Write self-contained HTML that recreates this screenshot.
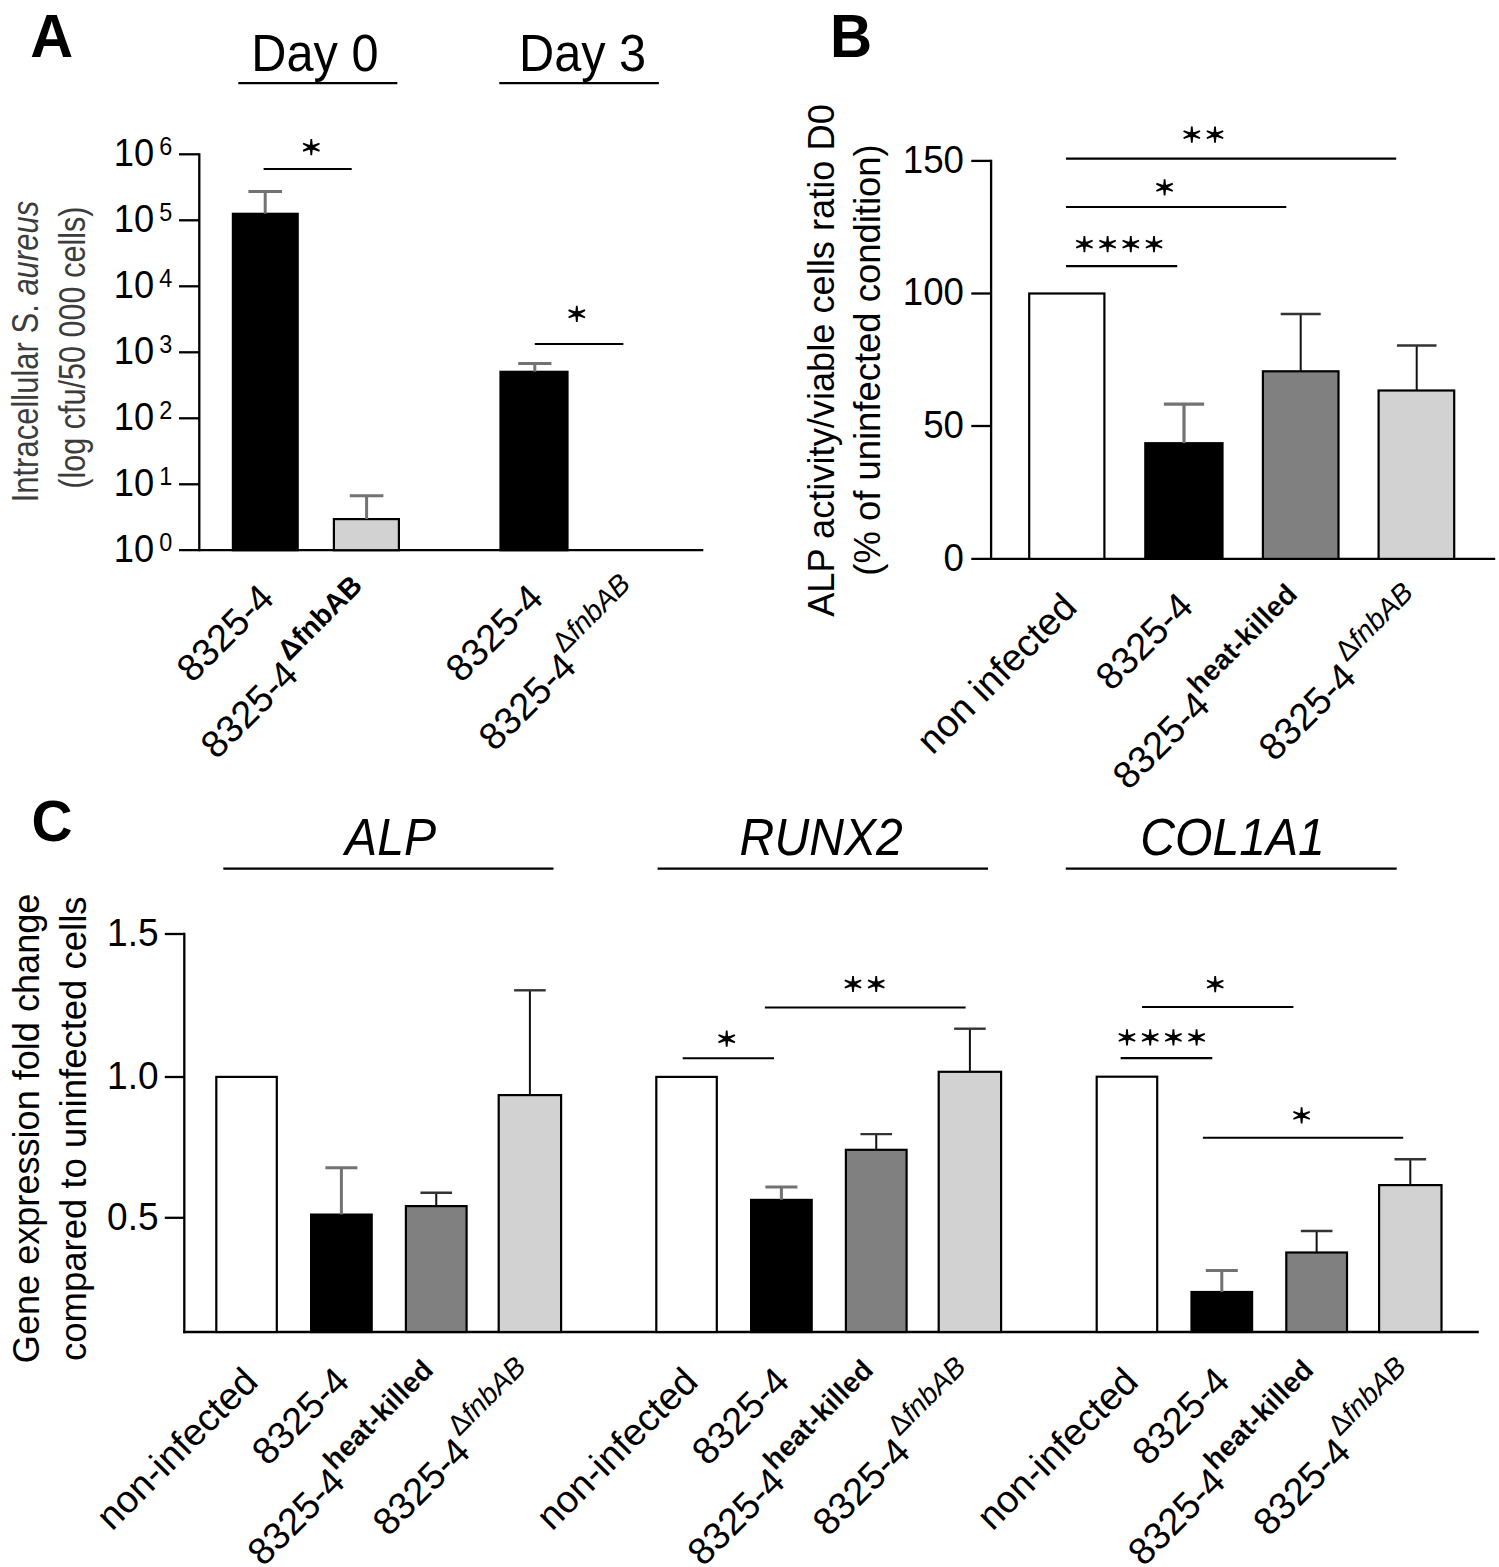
<!DOCTYPE html>
<html><head><meta charset="utf-8"><title>Figure</title>
<style>
html,body{margin:0;padding:0;background:#fff;}
body{width:1499px;height:1567px;overflow:hidden;font-family:"Liberation Sans",sans-serif;}
svg{display:block;font-family:"Liberation Sans",sans-serif;}
</style></head><body>
<svg width="1499" height="1567" viewBox="0 0 1499 1567">
<rect x="0" y="0" width="1499" height="1567" fill="#fff"/>
<text transform="translate(30.30,56.60) scale(0.982,1)" font-size="60.5" text-anchor="start" font-weight="bold">A</text>
<text transform="translate(314.90,71.10) scale(0.945,1)" font-size="51.5" text-anchor="middle" >Day 0</text>
<line x1="238.30" y1="83.20" x2="397.30" y2="83.20" stroke="#000" stroke-width="2.3" stroke-linecap="butt"/>
<text transform="translate(582.60,71.10) scale(0.945,1)" font-size="51.5" text-anchor="middle" >Day 3</text>
<line x1="499.30" y1="83.20" x2="658.90" y2="83.20" stroke="#000" stroke-width="2.3" stroke-linecap="butt"/>
<line x1="199.30" y1="153.15" x2="199.30" y2="551.35" stroke="#000" stroke-width="2.3" stroke-linecap="butt"/>
<line x1="179.00" y1="550.20" x2="703.30" y2="550.20" stroke="#000" stroke-width="2.3" stroke-linecap="butt"/>
<line x1="179.00" y1="154.30" x2="199.30" y2="154.30" stroke="#000" stroke-width="2.3" stroke-linecap="butt"/>
<text transform="translate(154.20,166.00) scale(0.955,1)" font-size="38" text-anchor="end" >10</text>
<text transform="translate(159.20,155.00) scale(0.9,1)" font-size="26" text-anchor="start" >6</text>
<line x1="179.00" y1="220.30" x2="199.30" y2="220.30" stroke="#000" stroke-width="2.3" stroke-linecap="butt"/>
<text transform="translate(154.20,232.00) scale(0.955,1)" font-size="38" text-anchor="end" >10</text>
<text transform="translate(159.20,221.00) scale(0.9,1)" font-size="26" text-anchor="start" >5</text>
<line x1="179.00" y1="286.30" x2="199.30" y2="286.30" stroke="#000" stroke-width="2.3" stroke-linecap="butt"/>
<text transform="translate(154.20,298.00) scale(0.955,1)" font-size="38" text-anchor="end" >10</text>
<text transform="translate(159.20,287.00) scale(0.9,1)" font-size="26" text-anchor="start" >4</text>
<line x1="179.00" y1="352.30" x2="199.30" y2="352.30" stroke="#000" stroke-width="2.3" stroke-linecap="butt"/>
<text transform="translate(154.20,364.00) scale(0.955,1)" font-size="38" text-anchor="end" >10</text>
<text transform="translate(159.20,353.00) scale(0.9,1)" font-size="26" text-anchor="start" >3</text>
<line x1="179.00" y1="418.30" x2="199.30" y2="418.30" stroke="#000" stroke-width="2.3" stroke-linecap="butt"/>
<text transform="translate(154.20,430.00) scale(0.955,1)" font-size="38" text-anchor="end" >10</text>
<text transform="translate(159.20,419.00) scale(0.9,1)" font-size="26" text-anchor="start" >2</text>
<line x1="179.00" y1="484.30" x2="199.30" y2="484.30" stroke="#000" stroke-width="2.3" stroke-linecap="butt"/>
<text transform="translate(154.20,496.00) scale(0.955,1)" font-size="38" text-anchor="end" >10</text>
<text transform="translate(159.20,485.00) scale(0.9,1)" font-size="26" text-anchor="start" >1</text>
<text transform="translate(154.20,562.00) scale(0.955,1)" font-size="38" text-anchor="end" >10</text>
<text transform="translate(159.20,551.00) scale(0.9,1)" font-size="26" text-anchor="start" >0</text>
<rect x="232.90" y="213.80" width="64.80" height="336.40" fill="#000000" stroke="#000" stroke-width="2.2"/>
<line x1="265.20" y1="191.40" x2="265.20" y2="213.70" stroke="#727272" stroke-width="3.0" stroke-linecap="butt"/>
<line x1="248.40" y1="191.40" x2="282.00" y2="191.40" stroke="#727272" stroke-width="3.0" stroke-linecap="butt"/>
<rect x="333.90" y="519.10" width="65.00" height="31.10" fill="#d2d2d2" stroke="#000" stroke-width="2.2"/>
<line x1="366.60" y1="495.80" x2="366.60" y2="519.00" stroke="#727272" stroke-width="3.0" stroke-linecap="butt"/>
<line x1="349.80" y1="495.80" x2="383.40" y2="495.80" stroke="#727272" stroke-width="3.0" stroke-linecap="butt"/>
<rect x="500.50" y="371.80" width="67.00" height="178.40" fill="#000000" stroke="#000" stroke-width="2.2"/>
<line x1="534.80" y1="363.60" x2="534.80" y2="371.70" stroke="#727272" stroke-width="3.0" stroke-linecap="butt"/>
<line x1="518.20" y1="363.60" x2="551.40" y2="363.60" stroke="#727272" stroke-width="3.0" stroke-linecap="butt"/>
<line x1="263.60" y1="168.90" x2="351.70" y2="168.90" stroke="#000" stroke-width="2.05" stroke-linecap="butt"/>
<path d="M312.90,147.20 L312.15,139.10 L310.45,139.10 L309.70,147.20Z M309.70,147.20 L310.45,155.30 L312.15,155.30 L312.90,147.20Z M311.95,148.66 L319.87,144.32 L319.18,142.76 L310.65,145.74Z M311.95,145.74 L303.42,142.76 L302.73,144.32 L310.65,148.66Z M310.65,145.74 L302.73,150.08 L303.42,151.64 L311.95,148.66Z M310.65,148.66 L319.18,151.64 L319.87,150.08 L311.95,145.74Z" fill="#000"/><ellipse cx="311.30" cy="147.20" rx="3.4" ry="2.8" fill="#000"/>
<line x1="534.80" y1="344.00" x2="623.40" y2="344.00" stroke="#000" stroke-width="2.05" stroke-linecap="butt"/>
<path d="M578.40,313.80 L577.65,305.70 L575.95,305.70 L575.20,313.80Z M575.20,313.80 L575.95,321.90 L577.65,321.90 L578.40,313.80Z M577.45,315.26 L585.37,310.92 L584.68,309.36 L576.15,312.34Z M577.45,312.34 L568.92,309.36 L568.23,310.92 L576.15,315.26Z M576.15,312.34 L568.23,316.68 L568.92,318.24 L577.45,315.26Z M576.15,315.26 L584.68,318.24 L585.37,316.68 L577.45,312.34Z" fill="#000"/><ellipse cx="576.80" cy="313.80" rx="3.4" ry="2.8" fill="#000"/>
<text transform="translate(37.8,351.6) rotate(-90) scale(0.838,1)" font-size="37" text-anchor="middle" fill="#3c3c3c">Intracellular S. <tspan font-style="italic">aureus</tspan></text>
<text transform="translate(85.2,347.6) rotate(-90) scale(0.827,1)" font-size="37" text-anchor="middle" fill="#3c3c3c">(log cfu/50 000 cells)</text>
<text transform="translate(192.40,683.90) rotate(-45)" font-size="38.0">8325-4</text>
<text transform="translate(216.60,760.40) rotate(-45)" font-size="38.0">8325-4</text>
<text transform="translate(289.00,662.00) rotate(-45)" font-size="28.5" font-weight="bold">ΔfnbAB</text>
<text transform="translate(461.60,683.90) rotate(-45)" font-size="38.0">8325-4</text>
<text transform="translate(494.50,752.40) rotate(-45)" font-size="38.0">8325-4</text>
<text transform="translate(563.70,654.00) rotate(-45)" font-size="28.5" font-style="italic"><tspan font-style="normal">Δ</tspan>fnbAB</text>
<text transform="translate(829.90,56.70) scale(0.968,1)" font-size="60.3" text-anchor="start" font-weight="bold">B</text>
<line x1="991.10" y1="159.75" x2="991.10" y2="560.05" stroke="#000" stroke-width="2.3" stroke-linecap="butt"/>
<line x1="971.30" y1="558.90" x2="1495.20" y2="558.90" stroke="#000" stroke-width="2.3" stroke-linecap="butt"/>
<line x1="971.30" y1="160.90" x2="991.10" y2="160.90" stroke="#000" stroke-width="2.3" stroke-linecap="butt"/>
<text transform="translate(963.90,172.70) scale(0.935,1)" font-size="39.2" text-anchor="end" >150</text>
<line x1="971.30" y1="293.50" x2="991.10" y2="293.50" stroke="#000" stroke-width="2.3" stroke-linecap="butt"/>
<text transform="translate(963.90,305.30) scale(0.935,1)" font-size="39.2" text-anchor="end" >100</text>
<line x1="971.30" y1="426.00" x2="991.10" y2="426.00" stroke="#000" stroke-width="2.3" stroke-linecap="butt"/>
<text transform="translate(963.90,437.80) scale(0.935,1)" font-size="39.2" text-anchor="end" >50</text>
<text transform="translate(963.90,570.70) scale(0.935,1)" font-size="39.2" text-anchor="end" >0</text>
<rect x="1029.20" y="293.50" width="75.20" height="265.40" fill="#ffffff" stroke="#000" stroke-width="2.2"/>
<rect x="1145.30" y="443.20" width="77.20" height="115.70" fill="#000000" stroke="#000" stroke-width="2.2"/>
<line x1="1184.00" y1="404.10" x2="1184.00" y2="443.10" stroke="#727272" stroke-width="3.2" stroke-linecap="butt"/>
<line x1="1163.90" y1="404.10" x2="1204.10" y2="404.10" stroke="#727272" stroke-width="3.2" stroke-linecap="butt"/>
<rect x="1262.90" y="371.30" width="75.60" height="187.60" fill="#808080" stroke="#000" stroke-width="2.2"/>
<line x1="1300.70" y1="314.00" x2="1300.70" y2="371.20" stroke="#111" stroke-width="2.0" stroke-linecap="butt"/>
<line x1="1280.70" y1="314.00" x2="1320.70" y2="314.00" stroke="#333" stroke-width="2.4" stroke-linecap="butt"/>
<rect x="1378.60" y="390.50" width="75.60" height="168.40" fill="#d2d2d2" stroke="#000" stroke-width="2.2"/>
<line x1="1416.70" y1="345.50" x2="1416.70" y2="390.40" stroke="#111" stroke-width="2.0" stroke-linecap="butt"/>
<line x1="1396.90" y1="345.50" x2="1436.50" y2="345.50" stroke="#333" stroke-width="2.4" stroke-linecap="butt"/>
<line x1="1066.00" y1="158.60" x2="1396.20" y2="158.60" stroke="#000" stroke-width="2.05" stroke-linecap="butt"/>
<path d="M1193.40,134.60 L1192.65,126.50 L1190.95,126.50 L1190.20,134.60Z M1190.20,134.60 L1190.95,142.70 L1192.65,142.70 L1193.40,134.60Z M1192.45,136.06 L1200.37,131.72 L1199.68,130.16 L1191.15,133.14Z M1192.45,133.14 L1183.92,130.16 L1183.23,131.72 L1191.15,136.06Z M1191.15,133.14 L1183.23,137.48 L1183.92,139.04 L1192.45,136.06Z M1191.15,136.06 L1199.68,139.04 L1200.37,137.48 L1192.45,133.14Z" fill="#000"/><ellipse cx="1191.80" cy="134.60" rx="3.4" ry="2.8" fill="#000"/>
<path d="M1216.60,134.60 L1215.85,126.50 L1214.15,126.50 L1213.40,134.60Z M1213.40,134.60 L1214.15,142.70 L1215.85,142.70 L1216.60,134.60Z M1215.65,136.06 L1223.57,131.72 L1222.88,130.16 L1214.35,133.14Z M1215.65,133.14 L1207.12,130.16 L1206.43,131.72 L1214.35,136.06Z M1214.35,133.14 L1206.43,137.48 L1207.12,139.04 L1215.65,136.06Z M1214.35,136.06 L1222.88,139.04 L1223.57,137.48 L1215.65,133.14Z" fill="#000"/><ellipse cx="1215.00" cy="134.60" rx="3.4" ry="2.8" fill="#000"/>
<line x1="1066.00" y1="207.00" x2="1286.30" y2="207.00" stroke="#000" stroke-width="2.05" stroke-linecap="butt"/>
<path d="M1166.20,187.30 L1165.45,179.20 L1163.75,179.20 L1163.00,187.30Z M1163.00,187.30 L1163.75,195.40 L1165.45,195.40 L1166.20,187.30Z M1165.25,188.76 L1173.17,184.42 L1172.48,182.86 L1163.95,185.84Z M1165.25,185.84 L1156.72,182.86 L1156.03,184.42 L1163.95,188.76Z M1163.95,185.84 L1156.03,190.18 L1156.72,191.74 L1165.25,188.76Z M1163.95,188.76 L1172.48,191.74 L1173.17,190.18 L1165.25,185.84Z" fill="#000"/><ellipse cx="1164.60" cy="187.30" rx="3.4" ry="2.8" fill="#000"/>
<line x1="1066.00" y1="266.10" x2="1177.20" y2="266.10" stroke="#000" stroke-width="2.05" stroke-linecap="butt"/>
<path d="M1086.00,244.10 L1085.25,236.00 L1083.55,236.00 L1082.80,244.10Z M1082.80,244.10 L1083.55,252.20 L1085.25,252.20 L1086.00,244.10Z M1085.05,245.56 L1092.97,241.22 L1092.28,239.66 L1083.75,242.64Z M1085.05,242.64 L1076.52,239.66 L1075.83,241.22 L1083.75,245.56Z M1083.75,242.64 L1075.83,246.98 L1076.52,248.54 L1085.05,245.56Z M1083.75,245.56 L1092.28,248.54 L1092.97,246.98 L1085.05,242.64Z" fill="#000"/><ellipse cx="1084.40" cy="244.10" rx="3.4" ry="2.8" fill="#000"/>
<path d="M1109.20,244.10 L1108.45,236.00 L1106.75,236.00 L1106.00,244.10Z M1106.00,244.10 L1106.75,252.20 L1108.45,252.20 L1109.20,244.10Z M1108.25,245.56 L1116.17,241.22 L1115.48,239.66 L1106.95,242.64Z M1108.25,242.64 L1099.72,239.66 L1099.03,241.22 L1106.95,245.56Z M1106.95,242.64 L1099.03,246.98 L1099.72,248.54 L1108.25,245.56Z M1106.95,245.56 L1115.48,248.54 L1116.17,246.98 L1108.25,242.64Z" fill="#000"/><ellipse cx="1107.60" cy="244.10" rx="3.4" ry="2.8" fill="#000"/>
<path d="M1132.40,244.10 L1131.65,236.00 L1129.95,236.00 L1129.20,244.10Z M1129.20,244.10 L1129.95,252.20 L1131.65,252.20 L1132.40,244.10Z M1131.45,245.56 L1139.37,241.22 L1138.68,239.66 L1130.15,242.64Z M1131.45,242.64 L1122.92,239.66 L1122.23,241.22 L1130.15,245.56Z M1130.15,242.64 L1122.23,246.98 L1122.92,248.54 L1131.45,245.56Z M1130.15,245.56 L1138.68,248.54 L1139.37,246.98 L1131.45,242.64Z" fill="#000"/><ellipse cx="1130.80" cy="244.10" rx="3.4" ry="2.8" fill="#000"/>
<path d="M1155.60,244.10 L1154.85,236.00 L1153.15,236.00 L1152.40,244.10Z M1152.40,244.10 L1153.15,252.20 L1154.85,252.20 L1155.60,244.10Z M1154.65,245.56 L1162.57,241.22 L1161.88,239.66 L1153.35,242.64Z M1154.65,242.64 L1146.12,239.66 L1145.43,241.22 L1153.35,245.56Z M1153.35,242.64 L1145.43,246.98 L1146.12,248.54 L1154.65,245.56Z M1153.35,245.56 L1161.88,248.54 L1162.57,246.98 L1154.65,242.64Z" fill="#000"/><ellipse cx="1154.00" cy="244.10" rx="3.4" ry="2.8" fill="#000"/>
<text transform="translate(833.8,360.5) rotate(-90) scale(0.966,1)" font-size="37.5" text-anchor="middle">ALP activity/viable cells ratio D0</text>
<text transform="translate(879.8,360.0) rotate(-90) scale(0.972,1)" font-size="37.5" text-anchor="middle">(% of uninfected condition)</text>
<text transform="translate(932.60,755.70) rotate(-45)" font-size="38.0">non infected</text>
<text transform="translate(1111.50,692.30) rotate(-45)" font-size="38.0">8325-4</text>
<text transform="translate(1128.40,791.20) rotate(-45)" font-size="38.0">8325-4</text>
<text transform="translate(1199.20,695.60) rotate(-45)" font-size="28.5" font-weight="bold" stroke="#fff" stroke-width="0.12">heat-killed</text>
<text transform="translate(1274.60,762.70) rotate(-45)" font-size="38.0">8325-4</text>
<text transform="translate(1346.40,662.60) rotate(-45)" font-size="28.5" font-style="italic"><tspan font-style="normal">Δ</tspan>fnbAB</text>
<text transform="translate(31.40,841.30) scale(0.975,1)" font-size="58.2" text-anchor="start" font-weight="bold">C</text>
<line x1="184.30" y1="932.85" x2="184.30" y2="1333.15" stroke="#000" stroke-width="2.3" stroke-linecap="butt"/>
<line x1="183.15" y1="1332.00" x2="1478.80" y2="1332.00" stroke="#000" stroke-width="2.3" stroke-linecap="butt"/>
<line x1="164.80" y1="934.00" x2="184.30" y2="934.00" stroke="#000" stroke-width="2.3" stroke-linecap="butt"/>
<text transform="translate(158.60,945.80) scale(0.955,1)" font-size="38.8" text-anchor="end" >1.5</text>
<line x1="164.80" y1="1077.00" x2="184.30" y2="1077.00" stroke="#000" stroke-width="2.3" stroke-linecap="butt"/>
<text transform="translate(158.60,1088.80) scale(0.955,1)" font-size="38.8" text-anchor="end" >1.0</text>
<line x1="164.80" y1="1217.80" x2="184.30" y2="1217.80" stroke="#000" stroke-width="2.3" stroke-linecap="butt"/>
<text transform="translate(158.60,1229.60) scale(0.955,1)" font-size="38.8" text-anchor="end" >0.5</text>
<text transform="translate(38.9,1128.4) rotate(-90) scale(0.965,1)" font-size="37.4" text-anchor="middle">Gene expression fold change</text>
<text transform="translate(85.5,1128.7) rotate(-90) scale(0.976,1)" font-size="37.4" text-anchor="middle">compared to uninfected cells</text>
<text transform="translate(390.60,854.50) scale(0.935,1)" font-size="51.5" text-anchor="middle" font-style="italic">ALP</text>
<line x1="223.30" y1="868.60" x2="553.50" y2="868.60" stroke="#000" stroke-width="2.3" stroke-linecap="butt"/>
<text transform="translate(821.20,854.50) scale(0.935,1)" font-size="51.5" text-anchor="middle" font-style="italic">RUNX2</text>
<line x1="657.60" y1="868.60" x2="988.00" y2="868.60" stroke="#000" stroke-width="2.3" stroke-linecap="butt"/>
<text transform="translate(1232.50,854.50) scale(0.935,1)" font-size="51.5" text-anchor="middle" font-style="italic">COL1A1</text>
<line x1="1065.80" y1="868.60" x2="1396.70" y2="868.60" stroke="#000" stroke-width="2.3" stroke-linecap="butt"/>
<rect x="216.30" y="1076.90" width="60.50" height="255.10" fill="#ffffff" stroke="#000" stroke-width="2.2"/>
<rect x="311.10" y="1214.60" width="60.60" height="117.40" fill="#000000" stroke="#000" stroke-width="2.2"/>
<line x1="341.40" y1="1167.70" x2="341.40" y2="1214.50" stroke="#727272" stroke-width="3.0" stroke-linecap="butt"/>
<line x1="325.40" y1="1167.70" x2="357.40" y2="1167.70" stroke="#727272" stroke-width="3.0" stroke-linecap="butt"/>
<rect x="405.90" y="1206.10" width="60.70" height="125.90" fill="#808080" stroke="#000" stroke-width="2.2"/>
<line x1="436.25" y1="1192.80" x2="436.25" y2="1206.00" stroke="#111" stroke-width="2.0" stroke-linecap="butt"/>
<line x1="420.45" y1="1192.80" x2="452.05" y2="1192.80" stroke="#333" stroke-width="2.4" stroke-linecap="butt"/>
<rect x="498.70" y="1095.10" width="62.40" height="236.90" fill="#d2d2d2" stroke="#000" stroke-width="2.2"/>
<line x1="529.90" y1="990.30" x2="529.90" y2="1095.00" stroke="#111" stroke-width="2.0" stroke-linecap="butt"/>
<line x1="514.10" y1="990.30" x2="545.70" y2="990.30" stroke="#333" stroke-width="2.4" stroke-linecap="butt"/>
<rect x="656.30" y="1076.90" width="60.50" height="255.10" fill="#ffffff" stroke="#000" stroke-width="2.2"/>
<rect x="751.10" y="1199.90" width="60.60" height="132.10" fill="#000000" stroke="#000" stroke-width="2.2"/>
<line x1="781.40" y1="1186.90" x2="781.40" y2="1199.80" stroke="#727272" stroke-width="3.0" stroke-linecap="butt"/>
<line x1="765.40" y1="1186.90" x2="797.40" y2="1186.90" stroke="#727272" stroke-width="3.0" stroke-linecap="butt"/>
<rect x="845.90" y="1149.80" width="60.70" height="182.20" fill="#808080" stroke="#000" stroke-width="2.2"/>
<line x1="876.25" y1="1134.10" x2="876.25" y2="1149.70" stroke="#111" stroke-width="2.0" stroke-linecap="butt"/>
<line x1="860.45" y1="1134.10" x2="892.05" y2="1134.10" stroke="#333" stroke-width="2.4" stroke-linecap="butt"/>
<rect x="938.70" y="1071.80" width="62.40" height="260.20" fill="#d2d2d2" stroke="#000" stroke-width="2.2"/>
<line x1="969.90" y1="1028.70" x2="969.90" y2="1071.70" stroke="#111" stroke-width="2.0" stroke-linecap="butt"/>
<line x1="954.10" y1="1028.70" x2="985.70" y2="1028.70" stroke="#333" stroke-width="2.4" stroke-linecap="butt"/>
<rect x="1096.70" y="1076.70" width="60.50" height="255.30" fill="#ffffff" stroke="#000" stroke-width="2.2"/>
<rect x="1191.50" y="1292.00" width="60.60" height="40.00" fill="#000000" stroke="#000" stroke-width="2.2"/>
<line x1="1221.80" y1="1270.50" x2="1221.80" y2="1291.90" stroke="#727272" stroke-width="3.0" stroke-linecap="butt"/>
<line x1="1205.80" y1="1270.50" x2="1237.80" y2="1270.50" stroke="#727272" stroke-width="3.0" stroke-linecap="butt"/>
<rect x="1286.30" y="1252.50" width="60.70" height="79.50" fill="#808080" stroke="#000" stroke-width="2.2"/>
<line x1="1316.65" y1="1231.00" x2="1316.65" y2="1252.40" stroke="#111" stroke-width="2.0" stroke-linecap="butt"/>
<line x1="1300.85" y1="1231.00" x2="1332.45" y2="1231.00" stroke="#333" stroke-width="2.4" stroke-linecap="butt"/>
<rect x="1379.10" y="1185.10" width="62.40" height="146.90" fill="#d2d2d2" stroke="#000" stroke-width="2.2"/>
<line x1="1410.30" y1="1159.20" x2="1410.30" y2="1185.00" stroke="#111" stroke-width="2.0" stroke-linecap="butt"/>
<line x1="1394.50" y1="1159.20" x2="1426.10" y2="1159.20" stroke="#333" stroke-width="2.4" stroke-linecap="butt"/>
<line x1="682.70" y1="1058.20" x2="774.00" y2="1058.20" stroke="#000" stroke-width="2.05" stroke-linecap="butt"/>
<path d="M728.30,1038.70 L727.55,1030.60 L725.85,1030.60 L725.10,1038.70Z M725.10,1038.70 L725.85,1046.80 L727.55,1046.80 L728.30,1038.70Z M727.35,1040.16 L735.27,1035.82 L734.58,1034.26 L726.05,1037.24Z M727.35,1037.24 L718.82,1034.26 L718.13,1035.82 L726.05,1040.16Z M726.05,1037.24 L718.13,1041.58 L718.82,1043.14 L727.35,1040.16Z M726.05,1040.16 L734.58,1043.14 L735.27,1041.58 L727.35,1037.24Z" fill="#000"/><ellipse cx="726.70" cy="1038.70" rx="3.4" ry="2.8" fill="#000"/>
<line x1="764.90" y1="1007.50" x2="965.60" y2="1007.50" stroke="#000" stroke-width="2.05" stroke-linecap="butt"/>
<path d="M854.60,984.00 L853.85,975.90 L852.15,975.90 L851.40,984.00Z M851.40,984.00 L852.15,992.10 L853.85,992.10 L854.60,984.00Z M853.65,985.46 L861.57,981.12 L860.88,979.56 L852.35,982.54Z M853.65,982.54 L845.12,979.56 L844.43,981.12 L852.35,985.46Z M852.35,982.54 L844.43,986.88 L845.12,988.44 L853.65,985.46Z M852.35,985.46 L860.88,988.44 L861.57,986.88 L853.65,982.54Z" fill="#000"/><ellipse cx="853.00" cy="984.00" rx="3.4" ry="2.8" fill="#000"/>
<path d="M877.80,984.00 L877.05,975.90 L875.35,975.90 L874.60,984.00Z M874.60,984.00 L875.35,992.10 L877.05,992.10 L877.80,984.00Z M876.85,985.46 L884.77,981.12 L884.08,979.56 L875.55,982.54Z M876.85,982.54 L868.32,979.56 L867.63,981.12 L875.55,985.46Z M875.55,982.54 L867.63,986.88 L868.32,988.44 L876.85,985.46Z M875.55,985.46 L884.08,988.44 L884.77,986.88 L876.85,982.54Z" fill="#000"/><ellipse cx="876.20" cy="984.00" rx="3.4" ry="2.8" fill="#000"/>
<line x1="1142.00" y1="1006.90" x2="1293.40" y2="1006.90" stroke="#000" stroke-width="2.05" stroke-linecap="butt"/>
<path d="M1216.80,984.10 L1216.05,976.00 L1214.35,976.00 L1213.60,984.10Z M1213.60,984.10 L1214.35,992.20 L1216.05,992.20 L1216.80,984.10Z M1215.85,985.56 L1223.77,981.22 L1223.08,979.66 L1214.55,982.64Z M1215.85,982.64 L1207.32,979.66 L1206.63,981.22 L1214.55,985.56Z M1214.55,982.64 L1206.63,986.98 L1207.32,988.54 L1215.85,985.56Z M1214.55,985.56 L1223.08,988.54 L1223.77,986.98 L1215.85,982.64Z" fill="#000"/><ellipse cx="1215.20" cy="984.10" rx="3.4" ry="2.8" fill="#000"/>
<line x1="1120.60" y1="1058.10" x2="1212.30" y2="1058.10" stroke="#000" stroke-width="2.05" stroke-linecap="butt"/>
<path d="M1128.60,1037.40 L1127.85,1029.30 L1126.15,1029.30 L1125.40,1037.40Z M1125.40,1037.40 L1126.15,1045.50 L1127.85,1045.50 L1128.60,1037.40Z M1127.65,1038.86 L1135.57,1034.52 L1134.88,1032.96 L1126.35,1035.94Z M1127.65,1035.94 L1119.12,1032.96 L1118.43,1034.52 L1126.35,1038.86Z M1126.35,1035.94 L1118.43,1040.28 L1119.12,1041.84 L1127.65,1038.86Z M1126.35,1038.86 L1134.88,1041.84 L1135.57,1040.28 L1127.65,1035.94Z" fill="#000"/><ellipse cx="1127.00" cy="1037.40" rx="3.4" ry="2.8" fill="#000"/>
<path d="M1151.80,1037.40 L1151.05,1029.30 L1149.35,1029.30 L1148.60,1037.40Z M1148.60,1037.40 L1149.35,1045.50 L1151.05,1045.50 L1151.80,1037.40Z M1150.85,1038.86 L1158.77,1034.52 L1158.08,1032.96 L1149.55,1035.94Z M1150.85,1035.94 L1142.32,1032.96 L1141.63,1034.52 L1149.55,1038.86Z M1149.55,1035.94 L1141.63,1040.28 L1142.32,1041.84 L1150.85,1038.86Z M1149.55,1038.86 L1158.08,1041.84 L1158.77,1040.28 L1150.85,1035.94Z" fill="#000"/><ellipse cx="1150.20" cy="1037.40" rx="3.4" ry="2.8" fill="#000"/>
<path d="M1175.00,1037.40 L1174.25,1029.30 L1172.55,1029.30 L1171.80,1037.40Z M1171.80,1037.40 L1172.55,1045.50 L1174.25,1045.50 L1175.00,1037.40Z M1174.05,1038.86 L1181.97,1034.52 L1181.28,1032.96 L1172.75,1035.94Z M1174.05,1035.94 L1165.52,1032.96 L1164.83,1034.52 L1172.75,1038.86Z M1172.75,1035.94 L1164.83,1040.28 L1165.52,1041.84 L1174.05,1038.86Z M1172.75,1038.86 L1181.28,1041.84 L1181.97,1040.28 L1174.05,1035.94Z" fill="#000"/><ellipse cx="1173.40" cy="1037.40" rx="3.4" ry="2.8" fill="#000"/>
<path d="M1198.20,1037.40 L1197.45,1029.30 L1195.75,1029.30 L1195.00,1037.40Z M1195.00,1037.40 L1195.75,1045.50 L1197.45,1045.50 L1198.20,1037.40Z M1197.25,1038.86 L1205.17,1034.52 L1204.48,1032.96 L1195.95,1035.94Z M1197.25,1035.94 L1188.72,1032.96 L1188.03,1034.52 L1195.95,1038.86Z M1195.95,1035.94 L1188.03,1040.28 L1188.72,1041.84 L1197.25,1038.86Z M1195.95,1038.86 L1204.48,1041.84 L1205.17,1040.28 L1197.25,1035.94Z" fill="#000"/><ellipse cx="1196.60" cy="1037.40" rx="3.4" ry="2.8" fill="#000"/>
<line x1="1202.90" y1="1137.80" x2="1403.20" y2="1137.80" stroke="#000" stroke-width="2.05" stroke-linecap="butt"/>
<path d="M1303.20,1115.40 L1302.45,1107.30 L1300.75,1107.30 L1300.00,1115.40Z M1300.00,1115.40 L1300.75,1123.50 L1302.45,1123.50 L1303.20,1115.40Z M1302.25,1116.86 L1310.17,1112.52 L1309.48,1110.96 L1300.95,1113.94Z M1302.25,1113.94 L1293.72,1110.96 L1293.03,1112.52 L1300.95,1116.86Z M1300.95,1113.94 L1293.03,1118.28 L1293.72,1119.84 L1302.25,1116.86Z M1300.95,1116.86 L1309.48,1119.84 L1310.17,1118.28 L1302.25,1113.94Z" fill="#000"/><ellipse cx="1301.60" cy="1115.40" rx="3.4" ry="2.8" fill="#000"/>
<text transform="translate(112.00,1531.70) rotate(-45)" font-size="38.0">non-infected</text>
<text transform="translate(267.70,1466.90) rotate(-45)" font-size="38.0">8325-4</text>
<text transform="translate(263.30,1567.40) rotate(-45)" font-size="38.0">8325-4</text>
<text transform="translate(335.10,1471.40) rotate(-45)" font-size="28.5" font-weight="bold" stroke="#fff" stroke-width="0.12">heat-killed</text>
<text transform="translate(388.60,1537.40) rotate(-45)" font-size="38.0">8325-4</text>
<text transform="translate(459.00,1437.00) rotate(-45)" font-size="28.5" font-style="italic"><tspan font-style="normal">Δ</tspan>fnbAB</text>
<text transform="translate(552.00,1531.70) rotate(-45)" font-size="38.0">non-infected</text>
<text transform="translate(707.70,1466.90) rotate(-45)" font-size="38.0">8325-4</text>
<text transform="translate(703.30,1567.40) rotate(-45)" font-size="38.0">8325-4</text>
<text transform="translate(775.10,1471.40) rotate(-45)" font-size="28.5" font-weight="bold" stroke="#fff" stroke-width="0.12">heat-killed</text>
<text transform="translate(828.60,1537.40) rotate(-45)" font-size="38.0">8325-4</text>
<text transform="translate(899.00,1437.00) rotate(-45)" font-size="28.5" font-style="italic"><tspan font-style="normal">Δ</tspan>fnbAB</text>
<text transform="translate(992.40,1531.70) rotate(-45)" font-size="38.0">non-infected</text>
<text transform="translate(1148.10,1466.90) rotate(-45)" font-size="38.0">8325-4</text>
<text transform="translate(1143.70,1567.40) rotate(-45)" font-size="38.0">8325-4</text>
<text transform="translate(1215.50,1471.40) rotate(-45)" font-size="28.5" font-weight="bold" stroke="#fff" stroke-width="0.12">heat-killed</text>
<text transform="translate(1269.00,1537.40) rotate(-45)" font-size="38.0">8325-4</text>
<text transform="translate(1339.40,1437.00) rotate(-45)" font-size="28.5" font-style="italic"><tspan font-style="normal">Δ</tspan>fnbAB</text>
</svg>
</body></html>
